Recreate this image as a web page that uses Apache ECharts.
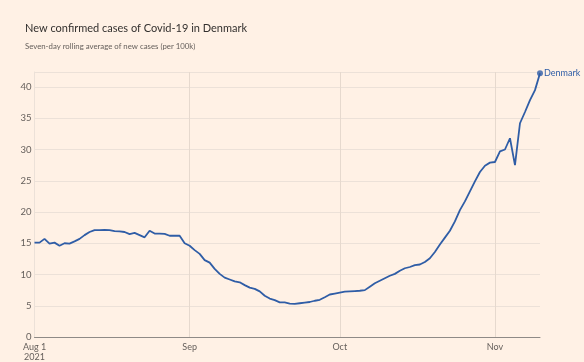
<!DOCTYPE html>
<html>
<head>
<meta charset="utf-8">
<script src="https://cdn.jsdelivr.net/npm/echarts@6/dist/echarts.min.js"></script>
<style>
html,body{margin:0;padding:0;background:#FFF1E5;}
#c{width:584px;height:362px;}
</style>
</head>
<body>
<div id="c"></div>
<script>
const title = "New confirmed cases of Covid-19 in Denmark";
const subtitle = "Seven-day rolling average of new cases (per 100k)";
const seriesName = "Denmark";
const startDate = "2021-08-01";
const dayCount = 102;
const monthLabels = {0: "Aug 1\n2021", 31: "Sep", 61: "Oct", 92: "Nov"};
const yTicks = [0, 5, 10, 15, 20, 25, 30, 35, 40];
const cases = [
  15.1, 15.1, 15.7, 14.95, 15.1, 14.6, 15.0, 14.95, 15.3, 15.7,
  16.3, 16.8, 17.1, 17.1, 17.15, 17.1, 16.95, 16.9, 16.8, 16.45,
  16.65, 16.3, 15.95, 17.0, 16.55, 16.55, 16.5, 16.2, 16.2, 16.2,
  15.0, 14.6, 13.9, 13.3, 12.3, 11.9, 10.9, 10.1, 9.5, 9.2,
  8.9, 8.75, 8.3, 7.9, 7.7, 7.3, 6.6, 6.15, 5.9, 5.55,
  5.55, 5.35, 5.3, 5.4, 5.5, 5.6, 5.8, 5.95, 6.35, 6.8,
  6.95, 7.1, 7.25, 7.3, 7.35, 7.4, 7.5, 8.05, 8.6, 9.0,
  9.4, 9.8, 10.1, 10.6, 11.0, 11.2, 11.5, 11.6, 12.0, 12.6,
  13.6, 14.8, 15.9, 17.0, 18.5, 20.3, 21.7, 23.3, 24.9, 26.4,
  27.4, 27.9, 28.0, 29.7, 30.0, 31.8, 27.5, 34.2, 36.0, 37.9,
  39.5, 42.2
];

const dates = [];
{
  const d0 = new Date(startDate + "T00:00:00Z");
  for (let i = 0; i < dayCount; i++) {
    const d = new Date(d0.getTime() + i * 86400000);
    dates.push(d.toISOString().slice(0, 10));
  }
}
const isMonthStart = (i) => Object.prototype.hasOwnProperty.call(monthLabels, i);
const last = cases.length - 1;

const chart = echarts.init(document.getElementById('c'), null, {renderer: 'canvas'});
const FONT = 'Lato';
chart.setOption({
  backgroundColor: '#FFF1E5',
  animation: false,
  title: [{
    text: title,
    left: 20, top: 18,
    textStyle: {fontFamily: FONT, fontSize: 11, fontWeight: 'normal', color: '#33302e'}
  }, {
    text: subtitle,
    left: 20, top: 37,
    textStyle: {fontFamily: FONT, fontSize: 7.8, fontWeight: 'normal', color: '#66605c'}
  }],
  grid: {left: 34.5, right: 44, top: 72, bottom: 25, containLabel: false},
  xAxis: {
    type: 'category',
    data: dates,
    boundaryGap: false,
    axisLine: {show: true, lineStyle: {color: '#8f8a86', width: 1}},
    axisTick: {show: false},
    axisLabel: {
      interval: (i) => isMonthStart(i),
      formatter: (v, i) => monthLabels[i] || '',
      fontFamily: FONT, fontSize: 9, color: '#66605c', margin: 5, lineHeight: 10
    },
    splitLine: {show: true, interval: (i) => isMonthStart(i) && i !== 0, lineStyle: {color: '#e6d9ce', width: 1}}
  },
  yAxis: {
    type: 'value',
    min: 0, max: 42.4, interval: 5,
    axisLine: {show: true, lineStyle: {color: '#ece1d8'}},
    axisTick: {show: false},
    axisLabel: {
      fontFamily: FONT, fontSize: 9.5, color: '#66605c', margin: 3,
      formatter: (v) => yTicks.includes(v) ? String(v) : ''
    },
    splitLine: {show: true, lineStyle: {color: '#ece1d8', width: 1}}
  },
  series: [{
    name: seriesName,
    type: 'line',
    data: cases,
    symbol: 'none',
    lineStyle: {color: '#2f5da6', width: 1.8},
    endLabel: {
      show: true, formatter: seriesName, color: '#2f5da6',
      fontFamily: FONT, fontSize: 9, distance: 4
    }
  }, {
    type: 'scatter',
    data: [[dates[last], cases[last]]],
    symbol: 'circle', symbolSize: 6,
    itemStyle: {color: '#2f5da6'},
    silent: true
  }]
});
</script>
</body>
</html>
